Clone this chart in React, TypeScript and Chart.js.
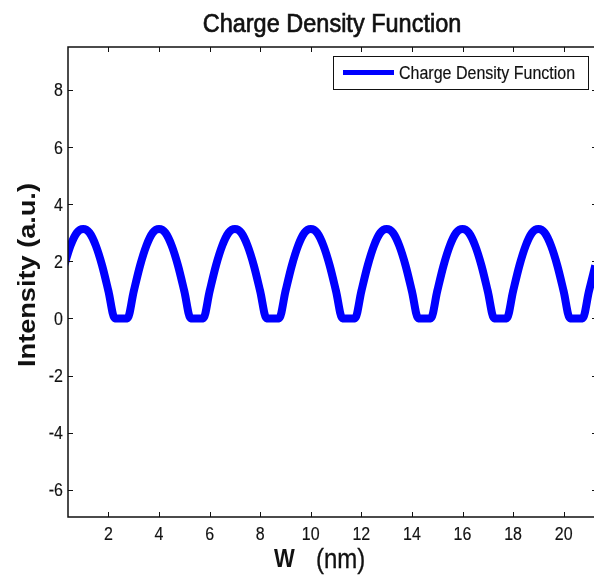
import React, { useEffect, useRef } from "react";
import { Chart, registerables } from "chart.js";

Chart.register(...registerables);

// ---- data ----
const positionNm = [
  0.25, 0.5, 0.75,
  1.0, 1.25, 1.5, 1.75, 2.0, 2.25, 2.5, 2.75, 3.0, 3.25, 3.5, 3.75,
  4.0, 4.25, 4.5, 4.75, 5.0, 5.25, 5.5, 5.75, 6.0, 6.25, 6.5, 6.75,
  7.0, 7.25, 7.5, 7.75, 8.0, 8.25, 8.5, 8.75, 9.0, 9.25, 9.5, 9.75,
  10.0, 10.25, 10.5, 10.75, 11.0, 11.25, 11.5, 11.75, 12.0, 12.25, 12.5, 12.75,
  13.0, 13.25, 13.5, 13.75, 14.0, 14.25, 14.5, 14.75, 15.0, 15.25, 15.5, 15.75,
  16.0, 16.25, 16.5, 16.75, 17.0, 17.25, 17.5, 17.75, 18.0, 18.25, 18.5, 18.75,
  19.0, 19.25, 19.5, 19.75, 20.0, 20.25, 20.5, 20.75, 21.0, 21.25,
];
const intensity = [
  1.85, 2.55, 3.0,
  3.13, 3.0, 2.55, 1.85, 0.95, 0, 0, 0, 0.95, 1.85, 2.55, 3.0,
  3.13, 3.0, 2.55, 1.85, 0.95, 0, 0, 0, 0.95, 1.85, 2.55, 3.0,
  3.13, 3.0, 2.55, 1.85, 0.95, 0, 0, 0, 0.95, 1.85, 2.55, 3.0,
  3.13, 3.0, 2.55, 1.85, 0.95, 0, 0, 0, 0.95, 1.85, 2.55, 3.0,
  3.13, 3.0, 2.55, 1.85, 0.95, 0, 0, 0, 0.95, 1.85, 2.55, 3.0,
  3.13, 3.0, 2.55, 1.85, 0.95, 0, 0, 0, 0.95, 1.85, 2.55, 3.0,
  3.13, 3.0, 2.55, 1.85, 0.95, 0, 0, 0, 0.95, 1.85,
];
const xTickValues = [2, 4, 6, 8, 10, 12, 14, 16, 18, 20];
const yTickValues = [-6, -4, -2, 0, 2, 4, 6, 8];
const xLimits = [0.4, 21.2];
const yLimits = [-6.95, 9.5];

const titleText = "Charge Density Function";
const seriesName = "Charge Density Function";
const yAxisTitle = "Intensity (a.u.)";
const xAxisTitleSymbol = "W";
const xAxisTitleUnit = "(nm)";

// ---- styles ----
const FONT = '"Liberation Sans", Arial, Helvetica, sans-serif';
const SY = 1.13; // vertical stretch of the reference's lettering
const INK = "#111111";
const LINE_BLUE = "#0000ff";

function drawText(
  ctx: CanvasRenderingContext2D,
  text: string,
  x: number,
  y: number,
  font: string,
  align: CanvasTextAlign,
  rotate = false,
  heavy = 0
) {
  ctx.save();
  ctx.translate(x, y);
  ctx.scale(1, SY);
  if (rotate) ctx.rotate(-Math.PI / 2);
  ctx.font = font;
  ctx.fillStyle = INK;
  ctx.textAlign = align;
  ctx.textBaseline = "alphabetic";
  ctx.fillText(text, 0, 0);
  if (heavy > 0) {
    ctx.strokeStyle = INK;
    ctx.lineWidth = heavy;
    ctx.strokeText(text, 0, 0);
  }
  ctx.restore();
}

const matlabAxes = {
  id: "matlabAxes",
  afterDatasetsDraw(chart: any) {
    const { ctx, chartArea: a, scales } = chart;
    const xs = scales.x;
    const ys = scales.y;
    const tick = 5;
    const rightEdge = a.right + 3; // axis box runs just past the picture's edge

    ctx.save();
    ctx.strokeStyle = INK;
    ctx.lineWidth = 1;

    // ticks (inward, all four sides)
    ctx.beginPath();
    xTickValues.forEach((v) => {
      const px = Math.round(xs.getPixelForValue(v)) + 0.5;
      ctx.moveTo(px, a.bottom);
      ctx.lineTo(px, a.bottom - tick);
      ctx.moveTo(px, a.top);
      ctx.lineTo(px, a.top + tick);
    });
    yTickValues.forEach((v) => {
      const py = Math.round(ys.getPixelForValue(v)) + 0.5;
      ctx.moveTo(a.left, py);
      ctx.lineTo(a.left + tick, py);
      ctx.moveTo(rightEdge, py);
      ctx.lineTo(rightEdge - tick, py);
    });
    ctx.stroke();

    // frame
    ctx.lineWidth = 1.5;
    ctx.beginPath();
    ctx.moveTo(rightEdge, a.top);
    ctx.lineTo(a.left, a.top);
    ctx.lineTo(a.left, a.bottom);
    ctx.lineTo(rightEdge, a.bottom);
    ctx.lineTo(rightEdge, a.top);
    ctx.stroke();
    ctx.restore();

    // tick labels
    const tickFont = `16px ${FONT}`;
    xTickValues.forEach((v) => {
      drawText(ctx, String(v), xs.getPixelForValue(v), a.bottom + 23, tickFont, "center", false, 0.15);
    });
    yTickValues.forEach((v) => {
      drawText(ctx, String(v), a.left - 5, ys.getPixelForValue(v) + 6.5, tickFont, "right", false, 0.15);
    });

    // title
    drawText(ctx, titleText, 332, 32, `23.5px ${FONT}`, "center", false, 0.6);

    // axis titles
    drawText(ctx, yAxisTitle, 35, 275, `bold 24px ${FONT}`, "center", true);
    drawText(ctx, xAxisTitleSymbol, 274, 567, `bold 22px ${FONT}`, "left");
    drawText(ctx, xAxisTitleUnit, 316, 568, `24px ${FONT}`, "left", false, 0.3);

    // legend
    ctx.save();
    ctx.fillStyle = "#ffffff";
    ctx.fillRect(333, 56, 255, 33);
    ctx.strokeStyle = INK;
    ctx.lineWidth = 1;
    ctx.strokeRect(333.5, 56.5, 255, 33);
    ctx.strokeStyle = LINE_BLUE;
    ctx.lineWidth = 5;
    ctx.beginPath();
    ctx.moveTo(343, 72.5);
    ctx.lineTo(394, 72.5);
    ctx.stroke();
    ctx.restore();
    drawText(ctx, seriesName, 399, 78.5, `16px ${FONT}`, "left", false, 0.15);
  },
};

export default function App() {
  const canvasRef = useRef<HTMLCanvasElement | null>(null);

  useEffect(() => {
    const canvas = canvasRef.current;
    if (!canvas) return;
    const points = positionNm.map((x, i) => ({ x, y: intensity[i] }));
    const chart = new Chart(canvas, {
      type: "line",
      data: {
        datasets: [
          {
            label: seriesName,
            data: points,
            borderColor: LINE_BLUE,
            backgroundColor: LINE_BLUE,
            borderWidth: 8,
            pointRadius: 0,
            fill: false,
            cubicInterpolationMode: "monotone",
            borderJoinStyle: "round",
            clip: 0,
          } as any,
        ],
      },
      options: {
        animation: false,
        responsive: false,
        devicePixelRatio: 1,
        layout: { padding: { left: 68, top: 47, right: 0, bottom: 63 } },
        scales: {
          x: { type: "linear", min: xLimits[0], max: xLimits[1], display: false },
          y: { type: "linear", min: yLimits[0], max: yLimits[1], display: false },
        },
        plugins: {
          legend: { display: false },
          title: { display: false },
          tooltip: { enabled: false },
        },
      },
      plugins: [matlabAxes],
    });
    return () => chart.destroy();
  }, []);

  return (
    <div style={{ position: "absolute", left: 0, top: 0, width: 594, height: 580, background: "#fff" }}>
      <canvas ref={canvasRef} width={594} height={580} style={{ display: "block" }} />
    </div>
  );
}
